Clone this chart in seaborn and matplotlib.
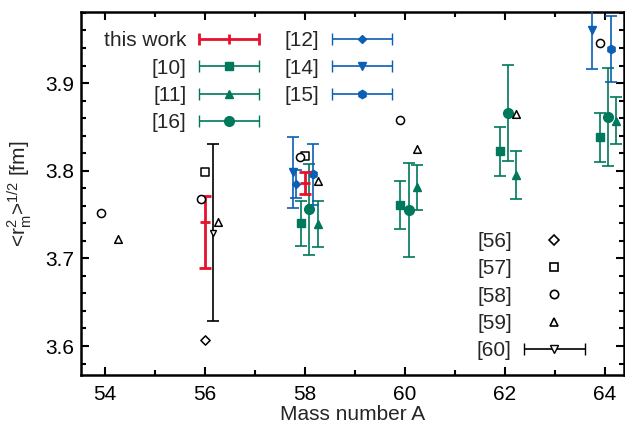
import numpy as np
import pandas as pd
import matplotlib
matplotlib.use('Agg')
import matplotlib.pyplot as plt
import seaborn as sns
from matplotlib.container import ErrorbarContainer
from matplotlib.legend_handler import HandlerErrorbar
from matplotlib.lines import Line2D
from matplotlib.ticker import MultipleLocator

RED = '#e8112d'
GREEN = '#00785c'
BLUE = '#0a5fb4'

# this work (asymmetric errors)
tw_a = [56.0, 58.0]
tw_r = [3.742, 3.786]
tw_lo = [0.053, 0.012]
tw_hi = [0.029, 0.012]

# green references
r10_a = [57.91, 59.90, 61.90, 63.90]
r10_r = [3.740, 3.761, 3.822, 3.838]
r10_e = [0.026, 0.027, 0.028, 0.028]

r11_a = [58.25, 60.25, 62.23, 64.23]
r11_r = [3.739, 3.781, 3.795, 3.857]
r11_e = [0.026, 0.026, 0.027, 0.027]

r16_a = [58.08, 60.08, 62.07, 64.07]
r16_r = [3.756, 3.755, 3.866, 3.861]
r16_e = [0.052, 0.054, 0.055, 0.056]

# blue references
r12_a = [57.82]
r12_r = [3.785]
r12_e = [0.016]

r14_a = [57.75, 63.75]
r14_r = [3.798, 3.960]
r14_e = [0.040, 0.044]

r15_a = [58.15, 64.13]
r15_r = [3.796, 3.939]
r15_e = [0.035, 0.038]

# open-symbol references
r56_a = [56.0]
r56_r = [3.607]
r57_a = [56.0, 58.0]
r57_r = [3.799, 3.817]
r58_a = [53.92, 55.91, 57.90, 59.90, 63.90]
r58_r = [3.752, 3.768, 3.816, 3.858, 3.946]
r59_a = [54.25, 56.26, 58.25, 60.25, 62.23]
r59_r = [3.722, 3.742, 3.788, 3.825, 3.865]
r60_a = [56.16]
r60_r = [3.729]
r60_e = [0.101]

FS = 15

sns.set_theme(style='ticks')
plt.rcParams['font.family'] = ['Liberation Sans', 'DejaVu Sans']
plt.rcParams['mathtext.fontset'] = 'custom'
plt.rcParams['mathtext.rm'] = 'Liberation Sans'
plt.rcParams['mathtext.it'] = 'Liberation Sans:italic'

fig = plt.figure(figsize=(6.25, 4.3), dpi=100)
ax = fig.add_axes([0.13, 0.128, 0.868, 0.844])

ebkw = dict(linestyle='none', elinewidth=1.2, capsize=4, capthick=1.2)

# error bar series
ax.errorbar(r60_a, r60_r, yerr=r60_e, marker='v', ms=5, mfc='white', mec='black', color='black', zorder=3, **ebkw)
for a, r, e, m, ms in [(r10_a, r10_r, r10_e, 's', 5.5), (r11_a, r11_r, r11_e, '^', 5.5), (r16_a, r16_r, r16_e, 'o', 7)]:
    ax.errorbar(a, r, yerr=e, marker=m, ms=ms, color=GREEN, zorder=4, **ebkw)
for a, r, e, m, ms in [(r12_a, r12_r, r12_e, 'D', 4.5), (r14_a, r14_r, r14_e, 'v', 6), (r15_a, r15_r, r15_e, 'h', 6)]:
    ax.errorbar(a, r, yerr=e, marker=m, ms=ms, color=BLUE, zorder=4, **ebkw)
ax.errorbar(tw_a, tw_r, yerr=[tw_lo, tw_hi], marker='_', ms=7, mew=2, color=RED, linestyle='none',
            elinewidth=2.0, capsize=4, capthick=2.0, zorder=5)

# open-symbol series via seaborn
open_sets = [(r56_a, r56_r, 'D', 22), (r57_a, r57_r, 's', 32), (r58_a, r58_r, 'o', 34), (r59_a, r59_r, '^', 30)]
for a, r, m, s in open_sets:
    df = pd.DataFrame({'A': a, 'r': r})
    sns.scatterplot(data=df, x='A', y='r', marker=m, s=s, facecolor='white', edgecolor='black',
                    linewidth=1.1, ax=ax, zorder=6)

ax.set_xlim(53.52, 64.38)
ax.set_ylim(3.567, 3.981)
ax.xaxis.set_major_locator(MultipleLocator(2))
ax.xaxis.set_minor_locator(MultipleLocator(1))
ax.yaxis.set_major_locator(MultipleLocator(0.1))
ax.yaxis.set_minor_locator(MultipleLocator(0.02))
ax.yaxis.set_major_formatter(matplotlib.ticker.FormatStrFormatter('%.1f'))
ax.tick_params(which='both', direction='in', top=True, right=True, width=1.5, labelsize=FS, colors='black')
ax.tick_params(which='major', length=6)
ax.tick_params(axis='y', which='major', pad=5)
ax.tick_params(axis='x', which='major', pad=7)
ax.tick_params(which='minor', length=3.5)
for sp in ax.spines.values():
    sp.set_linewidth(1.8)
    sp.set_color('black')

ax.set_xlabel('Mass number A', fontsize=FS, labelpad=1)
ax.set_ylabel(r'<r$^2_{\rm m}$>$^{1/2}$ [fm]', fontsize=FS, labelpad=8)

# legend proxies with horizontal bars
def proxy(color, marker, ms, lw=1.2, mfc=None, mew=1.0):
    h = ax.errorbar([np.nan], [np.nan], xerr=[1.0], marker=marker, ms=ms, color=color,
                    mfc=mfc if mfc else color, mec=color, mew=mew, linestyle='none',
                    elinewidth=lw, capsize=4, capthick=lw)
    return h

hl = 2.9
hmap = {ErrorbarContainer: HandlerErrorbar(xerr_size=hl / 2, numpoints=1)}

h_tw = proxy(RED, '|', 7, lw=2.0, mew=2.0)
h10 = proxy(GREEN, 's', 5.5)
h11 = proxy(GREEN, '^', 5.5)
h16 = proxy(GREEN, 'o', 7)
h12 = proxy(BLUE, 'D', 4.5)
h14 = proxy(BLUE, 'v', 6)
h15 = proxy(BLUE, 'h', 6)
h60 = proxy('black', 'v', 5.5, mfc='white')

leg1 = ax.legend([h_tw, h10, h11, h16, h12, h14, h15],
                 ['this work', '[10]', '[11]', '[16]', '[12]', '[14]', '[15]'],
                 ncol=2, loc='upper left', bbox_to_anchor=(0.042, 0.947), frameon=False,
                 markerfirst=False, handlelength=hl, handletextpad=0.6, columnspacing=1.2,
                 labelspacing=0.4, borderpad=0, borderaxespad=0, fontsize=FS, handler_map=hmap)
ax.add_artist(leg1)

open_handles = [Line2D([], [], marker=m, ms=ms, mfc='white', mec='black', mew=1.2, linestyle='none')
                for m, ms in [('D', 5.2), ('s', 6), ('o', 6), ('^', 6)]]
ax.legend(open_handles + [h60], ['[56]', '[57]', '[58]', '[59]', '[60]'],
          loc='lower right', bbox_to_anchor=(0.928, 0.04), frameon=False, markerfirst=False,
          handlelength=hl, handletextpad=0.6, labelspacing=0.4, borderpad=0, borderaxespad=0,
          fontsize=FS, numpoints=1, handler_map=hmap)

fig.savefig('out.png', dpi=100)
